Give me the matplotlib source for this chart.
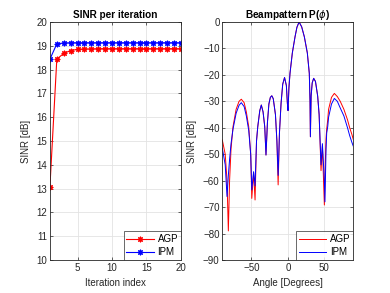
import numpy as np
import matplotlib.pyplot as plt

# SINR per iteration
iters = np.arange(1, 21)
sinr_agp = [13.08, 18.44, 18.68, 18.80, 18.85, 18.87, 18.87, 18.88, 18.88, 18.88,
            18.88, 18.88, 18.88, 18.88, 18.88, 18.88, 18.88, 18.88, 18.88, 18.88]
sinr_ipm = [18.44, 19.08, 19.12, 19.13, 19.13, 19.13, 19.13, 19.13, 19.13, 19.13,
            19.13, 19.13, 19.13, 19.13, 19.13, 19.13, 19.13, 19.13, 19.13, 19.13]

# beampattern
ang = [-90, -86, -83.5, -81.7, -80, -78, -75.3, -71, -67, -63.9, -60, -57, -53.7, -51,
       -49.5, -47, -45, -43, -41.3, -38.5, -36.4, -34, -31.7, -30, -28, -26, -24, -22,
       -20, -17, -15, -13.3, -11.5, -9.3, -7, -4.5, -2, -0.6, 0.3, 1.5, 3, 6.2, 9.9,
       12.5, 15.5, 19, 22.7, 26.8, 29.5, 30.5, 31, 32, 33.5, 35.5, 38, 41, 43, 45.6,
       47.5, 50.2, 51, 52.5, 53.4, 54.8, 56, 60, 63.9, 68, 72, 77, 82, 85, 88, 90]
bp_agp = [-44.6, -50, -60, -79, -60, -48, -39.6, -33, -30, -29.2, -30.5, -34, -39.6, -50,
          -66.7, -57, -67.3, -45, -39.6, -33.5, -31.4, -34, -39.6, -50.3, -38, -31, -28.5, -27.9,
          -29, -35, -45, -61.6, -42, -30.8, -23.5, -21, -24, -30.8, -33.5, -25, -19.4, -11.7, -5.6,
          -2, 0, -1.8, -5.6, -11.7, -19.4, -30, -43.4, -28, -23, -21.3, -22.5, -28, -35, -56.2,
          -47, -69.2, -58, -44, -40.5, -37, -33, -28.5, -27, -28.2, -30, -33, -37, -40, -42.5, -44.5]
bp_ipm = [-47.7, -54, -66, -58, -52, -46, -40.5, -34.5, -31.5, -30.5, -32, -35.5, -41, -50,
          -63.5, -56.6, -62, -45, -39.6, -33.5, -31.4, -34, -39.6, -50.3, -38, -31, -28.5, -27.9,
          -29, -35, -45, -58, -42, -30.8, -23.5, -21, -24, -30.8, -33.5, -25, -19.4, -11.7, -5.6,
          -2, 0, -1.8, -5.6, -11.7, -19.4, -30, -43.4, -28, -23, -21.3, -22.5, -28, -35, -54,
          -46, -60, -68, -48, -42, -39.6, -36, -31, -28.9, -30, -32.5, -35.5, -40, -43, -45.5, -47]

plt.rcParams['font.family'] = ['Liberation Sans', 'DejaVu Sans']
plt.rcParams['font.size'] = 7
plt.rcParams['mathtext.fontset'] = 'dejavusans'

fig = plt.figure(figsize=(3.9, 2.93), dpi=100)
ax1 = fig.add_axes([0.128, 0.1126, 0.336, 0.8123])
ax2 = fig.add_axes([0.570, 0.1126, 0.336, 0.8123])

star = (8, 2, 0)
ax1.plot(iters, sinr_agp, color='#ff0000', lw=0.8, marker=star, ms=4, mew=0.8, label='AGP')
ax1.plot(iters, sinr_ipm, color='#0000ff', lw=0.8, marker=star, ms=4, mew=0.8, label='IPM')
ax1.set_xlim(1, 20)
ax1.set_ylim(10, 20)
ax1.set_xticks([5, 10, 15, 20])
ax1.set_yticks(range(10, 21))
ax1.set_xlabel('Iteration index', color='#262626')
ax1.set_ylabel('SINR [dB]', color='#262626')
ax1.set_title('SINR per iteration', fontweight='bold', fontsize=7.2, pad=3)

ax2.plot(ang, bp_agp, color='#ff0000', lw=0.7, label='AGP')
ax2.plot(ang, bp_ipm, color='#0000ff', lw=0.7, label='IPM')
ax2.set_xlim(-90, 90)
ax2.set_ylim(-90, 0)
ax2.set_xticks([-50, 0, 50])
ax2.set_yticks(range(-90, 1, 10))
ax2.set_xlabel('Angle [Degrees]', color='#262626')
ax2.set_ylabel('SINR [dB]', color='#262626')
ax2.set_title(r'Beampattern P($\phi$)', fontweight='bold', fontsize=7.2, pad=3)

for ax in (ax1, ax2):
    ax.grid(True, color='#e3e3e3', lw=0.6)
    ax.set_axisbelow(True)
    ax.tick_params(direction='in', length=2.5, width=0.5, top=True, right=True,
                   colors='#262626', labelcolor='#262626', pad=2)
    for s in ax.spines.values():
        s.set_color('#262626')
        s.set_linewidth(0.6)
    leg = ax.legend(loc='lower right', borderaxespad=0, fancybox=False,
                    edgecolor='#262626', handlelength=2.8, fontsize=7,
                    borderpad=0.3, labelspacing=0.3, handletextpad=0.4)
    leg.get_frame().set_linewidth(0.6)

fig.savefig('out.png', dpi=100)
